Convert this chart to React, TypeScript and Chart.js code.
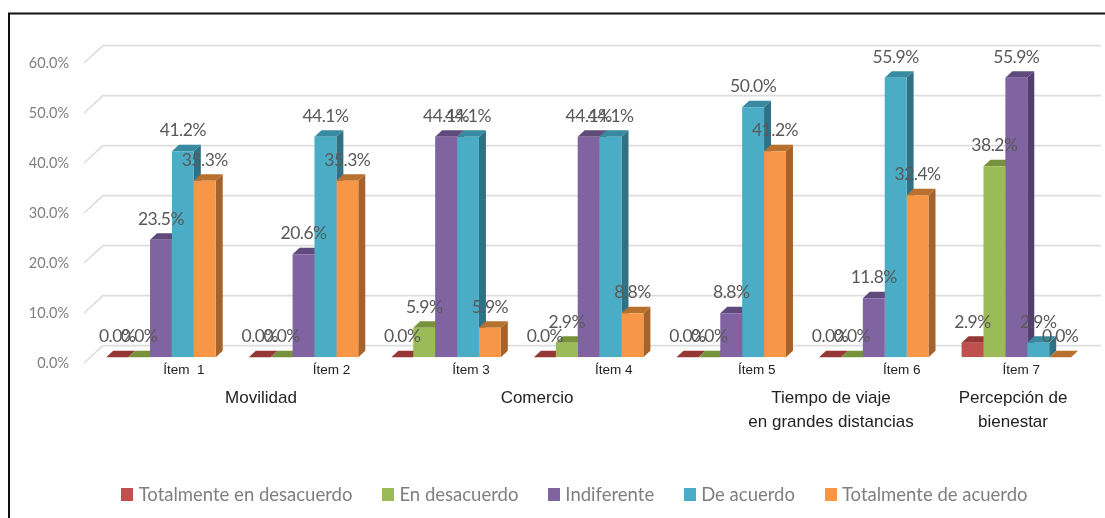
import React, { useEffect, useRef } from "react";
import { Chart, registerables } from "chart.js";

Chart.register(...registerables);

const items = ["Ítem  1", "Ítem 2", "Ítem 3", "Ítem 4", "Ítem 5", "Ítem 6", "Ítem 7"];
const totalDesacuerdo = [0, 0, 0, 0, 0, 0, 2.9];
const enDesacuerdo = [0, 0, 5.9, 2.9, 0, 0, 38.2];
const indiferente = [23.5, 20.6, 44.1, 44.1, 8.8, 11.8, 55.9];
const deAcuerdo = [41.2, 44.1, 44.1, 44.1, 50.0, 55.9, 2.9];
const totalAcuerdo = [35.3, 35.3, 5.9, 8.8, 41.2, 32.4, 0];
const gridValues = [0, 10, 20, 30, 40, 50, 60];

// Item captions sit to the right of their category centre by a varying amount.
const itemShift = [23, 28, 25, 25, 25.5, 28, 5];
const groupCaptions = [
  { lines: ["Movilidad"], x: 261 },
  { lines: ["Comercio"], x: 537 },
  { lines: ["Tiempo de viaje", "en grandes distancias"], x: 831 },
  { lines: ["Percepción de", "bienestar"], x: 1013 },
];

const seriesStyles = [
  { label: "Totalmente en desacuerdo", data: totalDesacuerdo, front: "#C0504D", cap: "#953735", side: "#8C3836" },
  { label: "En desacuerdo", data: enDesacuerdo, front: "#9BBB59", cap: "#76923C", side: "#6A8239" },
  { label: "Indiferente", data: indiferente, front: "#8064A2", cap: "#604A7B", side: "#533F6E" },
  { label: "De acuerdo", data: deAcuerdo, front: "#4BACC6", cap: "#378AA0", side: "#2F7286" },
  { label: "Totalmente de acuerdo", data: totalAcuerdo, front: "#F79646", cap: "#B8702F", side: "#A5622B" },
];

const DEPTH_X = 7;
const DEPTH_Y = 6.5;
const AREA_BOTTOM = 357.3;
const LEGEND_BOTTOM_GAP = 4;
const LEGEND_LEFT_INSET = 65.4;

// Moves the legend row's centring span to the right of the value axis.
const legendInsetPlugin = {
  id: "legendInset",
  afterLayout(chart: any) {
    chart.legend.left += LEGEND_LEFT_INSET;
  },
};

// Back wall gridlines with the short diagonal running to the front edge.
const wallPlugin = {
  id: "wall",
  beforeDatasetsDraw(chart: any) {
    const { ctx, scales } = chart;
    ctx.save();
    ctx.strokeStyle = "#DDDDDD";
    ctx.lineWidth = 1.6;
    for (const v of gridValues) {
      const y = scales.y.getPixelForValue(v);
      ctx.beginPath();
      ctx.moveTo(84, y + 5.7);
      ctx.lineTo(103, y - 11.7);
      ctx.lineTo(1101, y - 11.7);
      ctx.stroke();
    }
    ctx.restore();
  },
};

// Side and top faces of each bar, painted left to right; the flat fronts
// come from the bar elements and land on top of all of these.
const depthPlugin = {
  id: "depth",
  beforeDatasetsDraw(chart: any) {
    const { ctx } = chart;
    ctx.save();
    seriesStyles.forEach((style, i) => {
      for (const bar of chart.getDatasetMeta(i).data) {
        const left = bar.x - bar.width / 2;
        const right = bar.x + bar.width / 2;
        const top = bar.y;
        const bottom = bar.base;
        ctx.fillStyle = style.side;
        ctx.beginPath();
        ctx.moveTo(right, top);
        ctx.lineTo(right + DEPTH_X, top - DEPTH_Y);
        ctx.lineTo(right + DEPTH_X, bottom - DEPTH_Y);
        ctx.lineTo(right, bottom);
        ctx.closePath();
        ctx.fill();
        ctx.fillStyle = style.cap;
        ctx.beginPath();
        ctx.moveTo(left, top);
        ctx.lineTo(left + DEPTH_X, top - DEPTH_Y);
        ctx.lineTo(right + DEPTH_X, top - DEPTH_Y);
        ctx.lineTo(right, top);
        ctx.closePath();
        ctx.fill();
      }
    });
    ctx.restore();
  },
};

// Value labels, item captions, group captions and the outer frame.
const annotationPlugin = {
  id: "annotations",
  afterDatasetsDraw(chart: any) {
    const { ctx, scales } = chart;
    ctx.save();
    ctx.textAlign = "center";
    ctx.textBaseline = "middle";
    ctx.font = "17.5px Lato";
    (ctx as any).letterSpacing = "-0.5px";
    ctx.fillStyle = "#595959";
    seriesStyles.forEach((style, i) => {
      chart.getDatasetMeta(i).data.forEach((bar: any, j: number) => {
        ctx.fillText(style.data[j].toFixed(1) + "%", bar.x, bar.y - 20.5);
      });
    });
    (ctx as any).letterSpacing = "0px";
    ctx.fillStyle = "#222222";
    ctx.font = "13.5px 'Liberation Sans'";
    items.forEach((label, i) => {
      ctx.fillText(label, scales.x.getPixelForValue(i) + itemShift[i], 370.5);
    });
    ctx.font = "17px 'Liberation Sans'";
    for (const caption of groupCaptions) {
      caption.lines.forEach((line, k) => {
        ctx.fillText(line, caption.x, 398 + k * 24.5);
      });
    }
    ctx.strokeStyle = "#111111";
    ctx.lineWidth = 2;
    ctx.beginPath();
    ctx.moveTo(9, 518);
    ctx.lineTo(9, 13.5);
    ctx.lineTo(1105, 13.5);
    ctx.stroke();
    ctx.restore();
  },
};

// Square swatch used as the legend marker for one series.
function swatch(color: string) {
  const c = document.createElement("canvas");
  c.width = 12;
  c.height = 13;
  const g = c.getContext("2d") as CanvasRenderingContext2D;
  g.fillStyle = color;
  g.fillRect(0, 0, 12, 13);
  return c;
}

export default function App() {
  const canvasRef = useRef<HTMLCanvasElement | null>(null);

  useEffect(() => {
    const chart = new Chart(canvasRef.current as HTMLCanvasElement, {
      type: "bar",
      data: {
        labels: items,
        datasets: seriesStyles.map((s) => ({
          label: s.label,
          data: s.data,
          backgroundColor: s.front,
          categoryPercentage: 0.768,
          barPercentage: 1,
        })),
      },
      plugins: [legendInsetPlugin, wallPlugin, depthPlugin, annotationPlugin],
      options: {
        responsive: false,
        animation: false,
        layout: { padding: { top: 57.3, right: 17.4, left: 0, bottom: LEGEND_BOTTOM_GAP } },
        scales: {
          x: {
            grid: { display: false },
            border: { display: false },
            ticks: { display: false },
            afterFit(scale: any) {
              const legendHeight = scale.chart.legend ? scale.chart.legend.height : 0;
              scale.height = 518 - AREA_BOTTOM - legendHeight - LEGEND_BOTTOM_GAP;
            },
          },
          y: {
            min: 0,
            max: 60,
            grid: { display: false, tickLength: 0 },
            border: { display: false },
            afterFit(scale: any) {
              scale.width = 89.7;
            },
            ticks: {
              stepSize: 10,
              padding: 20.7,
              labelOffset: 5.7,
              color: "#7F7F7F",
              font: { family: "Lato", size: 14.5 },
              callback: (v: any) => Number(v).toFixed(1) + "%",
            },
          },
        },
        plugins: {
          tooltip: { enabled: false },
          legend: {
            position: "bottom",
            labels: {
              usePointStyle: true,
              boxWidth: 4,
              boxHeight: 12,
              padding: 33.75,
              color: "#7F7F7F",
              font: { family: "Lato", size: 18.5 },
              generateLabels: () =>
                seriesStyles.map((s, i) => ({
                  text: s.label,
                  fillStyle: s.front,
                  strokeStyle: s.front,
                  lineWidth: 0,
                  datasetIndex: i,
                  fontColor: "#7F7F7F",
                  pointStyle: swatch(s.front),
                })),
            },
          },
        },
      },
    } as any);
    return () => chart.destroy();
  }, []);

  return (
    <div style={{ position: "absolute", left: 0, top: 0, width: 1105, height: 518, background: "#fff" }}>
      <canvas ref={canvasRef} width={1105} height={518} style={{ display: "block" }} />
    </div>
  );
}
